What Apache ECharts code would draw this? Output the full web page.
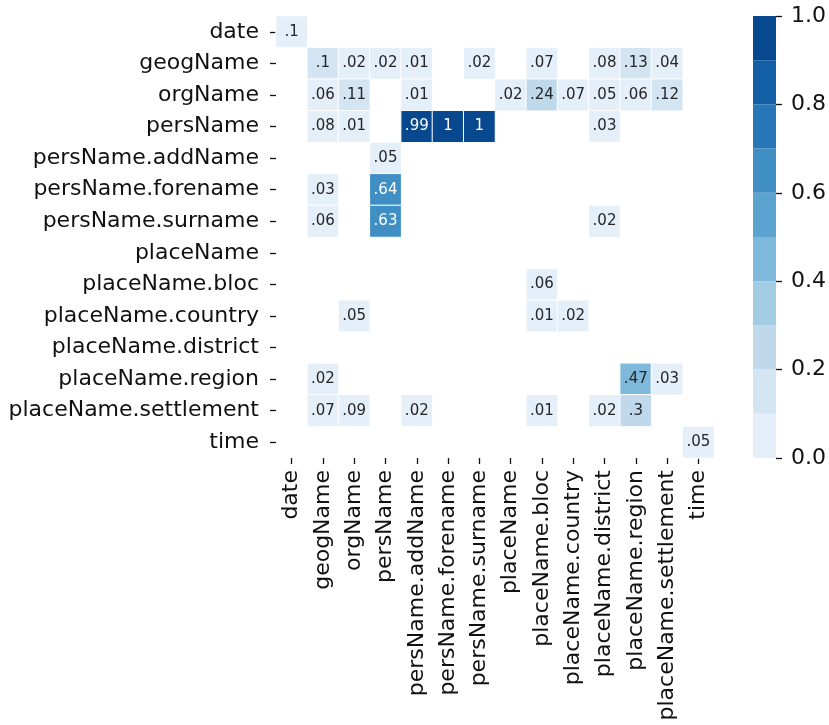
<!DOCTYPE html>
<html>
<head>
<meta charset="utf-8">
<script src="https://cdn.jsdelivr.net/npm/echarts@6/dist/echarts.min.js"></script>
<style>
html,body{margin:0;padding:0;background:#fff;}
#chart{width:829px;height:725px;}
</style>
</head>
<body>
<div id="chart"></div>
<script>
// Categories (same for rows and columns)
const categories = ['date','geogName','orgName','persName','persName.addName','persName.forename','persName.surname','placeName','placeName.bloc','placeName.country','placeName.district','placeName.region','placeName.settlement','time'];

// One array per row (null = empty cell)
const row_date        = [0.096,null,null,null,null,null,null,null,null,null,null,null,null,null];
const row_geogName    = [null,0.104,0.02,0.02,0.01,null,0.02,null,0.07,null,0.08,0.13,0.04,null];
const row_orgName     = [null,0.06,0.11,null,0.01,null,null,0.02,0.24,0.07,0.05,0.06,0.12,null];
const row_persName    = [null,0.08,0.01,null,0.99,1,1,null,null,null,0.03,null,null,null];
const row_addName     = [null,null,null,0.05,null,null,null,null,null,null,null,null,null,null];
const row_forename    = [null,0.03,null,0.64,null,null,null,null,null,null,null,null,null,null];
const row_surname     = [null,0.06,null,0.63,null,null,null,null,null,null,0.02,null,null,null];
const row_placeName   = [null,null,null,null,null,null,null,null,null,null,null,null,null,null];
const row_bloc        = [null,null,null,null,null,null,null,null,0.06,null,null,null,null,null];
const row_country     = [null,null,0.05,null,null,null,null,null,0.01,0.02,null,null,null,null];
const row_district    = [null,null,null,null,null,null,null,null,null,null,null,null,null,null];
const row_region      = [null,0.02,null,null,null,null,null,null,null,null,null,0.47,0.03,null];
const row_settlement  = [null,0.07,0.09,null,0.02,null,null,null,0.01,null,0.02,0.298,null,null];
const row_time        = [null,null,null,null,null,null,null,null,null,null,null,null,null,0.05];

const rows = [row_date,row_geogName,row_orgName,row_persName,row_addName,row_forename,row_surname,row_placeName,row_bloc,row_country,row_district,row_region,row_settlement,row_time];

// Colour bins (Blues, 10 steps) and colorbar ticks
const palette = ['#e5eff9','#d3e4f3','#bfd8ec','#a2cce2','#7eb8da','#5ca4d0','#3f8fc4','#2777b8','#1360a7','#08488f'];
const binEdges = [0,0.1,0.2,0.3,0.4,0.5,0.6,0.7,0.8,0.9,1.0];

const FONT = 'DejaVu Sans';
const TXT = '#111111';
const ANN = '#262626';

function binIndex(v){ let i = Math.floor(v*10); if (i>9) i=9; if (i<0) i=0; return i; }
function lum(hex){
  const c=[1,3,5].map(k=>parseInt(hex.substr(k,2),16)/255).map(x=> x<=0.03928? x/12.92 : Math.pow((x+0.055)/1.055,2.4));
  return 0.2126*c[0]+0.7152*c[1]+0.0722*c[2];
}
function fmt(v){
  let s = (Math.round(v*100)/100).toString();
  if (s.startsWith('0.')) s = s.substring(1);
  return s;
}

const heatData = [];
rows.forEach((r, yi) => {
  r.forEach((v, xi) => {
    if (v === null) return;
    const col = palette[binIndex(v)];
    heatData.push({
      value: [xi, yi, v],
      label: { color: lum(col) < 0.408 ? '#ffffff' : ANN }
    });
  });
});

const pieces = palette.map((c,i)=>({ gte: binEdges[i], lt: binEdges[i+1] + (i===9?0.001:0), color: c }));

const colorbarSeries = palette.map((c,i)=>({
  type:'bar', xAxisIndex:1, yAxisIndex:1, stack:'cb', barWidth:'100%',
  data:[binEdges[i+1]-binEdges[i]], itemStyle:{color:c}, silent:true, animation:false
}));

const chart = echarts.init(document.getElementById('chart'), null, {renderer:'canvas'});
chart.setOption({
  animation:false,
  backgroundColor:'#ffffff',
  textStyle:{fontFamily:FONT},
  grid:[
    {left:276, top:16, width:438, height:442},
    {left:753, top:16, width:23, height:442}
  ],
  xAxis:[
    {type:'category', data:categories, gridIndex:0, position:'bottom',
     axisLine:{show:false}, splitLine:{show:false},
     axisTick:{show:true, alignWithLabel:true, length:6, lineStyle:{color:TXT, width:1.3}},
     axisLabel:{rotate:90, interval:0, fontSize:22, color:TXT, fontFamily:FONT, margin:12}},
    {type:'category', data:['cb'], gridIndex:1, show:false}
  ],
  yAxis:[
    {type:'category', data:categories, gridIndex:0, inverse:true,
     axisLine:{show:false}, splitLine:{show:false},
     axisTick:{show:true, alignWithLabel:true, length:6, lineStyle:{color:TXT, width:1.3}},
     axisLabel:{interval:0, fontSize:22, color:TXT, fontFamily:FONT, margin:17}},
    {type:'value', gridIndex:1, min:0, max:1, interval:0.2, position:'right',
     axisLine:{show:false}, splitLine:{show:false},
     axisTick:{show:true, length:6, lineStyle:{color:TXT, width:1.3}},
     axisLabel:{fontSize:22, color:TXT, fontFamily:FONT, margin:15, formatter:v=>v.toFixed(1)}}
  ],
  visualMap:{type:'piecewise', show:false, seriesIndex:0, dimension:2, pieces:pieces},
  series:[
    {type:'heatmap', xAxisIndex:0, yAxisIndex:0, data:heatData,
     itemStyle:{borderColor:'#ffffff', borderWidth:1},
     label:{show:true, fontSize:15, fontFamily:FONT, formatter:p=>fmt(p.value[2])},
     emphasis:{disabled:true}}
  ].concat(colorbarSeries)
});
</script>
</body>
</html>
